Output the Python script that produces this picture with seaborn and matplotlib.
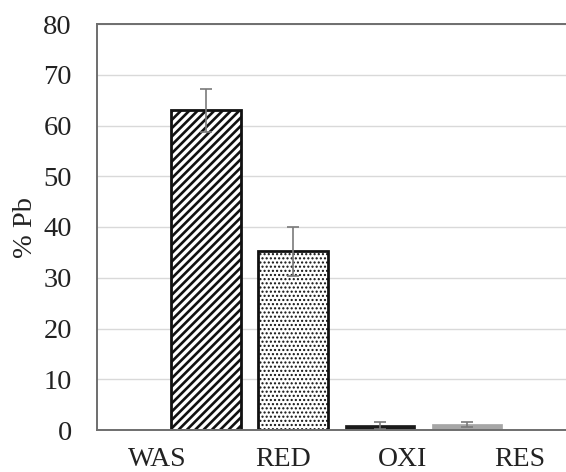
import seaborn as sns
import pandas as pd
import numpy as np
from matplotlib import pyplot as plt

# lead fractions (%)
fractions = ["WAS", "RED", "OXI", "RES"]
pb_mean = [63.0, 35.2, 0.9, 1.1]
pb_err = [4.2, 4.8, 0.7, 0.5]

df = pd.DataFrame({"Fraction": fractions, "Pb": pb_mean})

sns.set_theme(style="white")
plt.rcParams['font.family'] = ['Liberation Serif', 'DejaVu Serif']

fig = plt.figure(figsize=(5.66, 4.72), dpi=100)
ax = fig.add_axes([97 / 566, 42 / 472, 1 - 97 / 566, 406 / 472])

sns.barplot(data=df, x="Fraction", y="Pb", order=fractions, color="white",
            width=0.8, ax=ax, zorder=2)

styles = [
    dict(facecolor="white", edgecolor="#111111", hatch="////", lw=2.0, hlw=1.9),
    dict(facecolor="white", edgecolor="#111111", hatch="....", lw=2.0, hlw=1.0),
    dict(facecolor="#1a1a1a", edgecolor="#1a1a1a", hatch=None, lw=0.5, hlw=1.0),
    dict(facecolor="#a6a6a6", edgecolor="#a6a6a6", hatch=None, lw=0.5, hlw=1.0),
]
for patch, st in zip(ax.patches, styles):
    patch.set_facecolor(st["facecolor"])
    patch.set_edgecolor(st["edgecolor"])
    patch.set_linewidth(st["lw"])
    if st["hatch"]:
        patch.set_hatch(st["hatch"])
        try:
            patch.set_hatch_linewidth(st["hlw"])
        except AttributeError:
            plt.rcParams['hatch.linewidth'] = 1.9

ax.errorbar(x=np.arange(len(fractions)), y=pb_mean, yerr=pb_err, fmt="none",
            ecolor="#7a7a7a", elinewidth=1.2, capsize=4, capthick=1.2, zorder=3)

ax.set_ylim(0, 80)
ax.set_xlim(-1.25, 4.14)
ax.set_yticks(range(0, 81, 10))
ax.yaxis.grid(True, color="#d9d9d9", linewidth=1.0, zorder=0)
ax.set_axisbelow(True)

# the category labels in the original sit on their own spacing, not under the bars
ax.set_xticks([-0.554, 0.889, 2.256, 3.613], fractions)

for side in ["left", "top", "bottom"]:
    ax.spines[side].set_color("#6e6e6e")
    ax.spines[side].set_linewidth(1.4)
ax.spines["right"].set_visible(False)

ax.tick_params(axis="y", length=0, pad=18, labelsize=20.5, labelcolor="#222222")
ax.tick_params(axis="x", length=0, pad=12, labelsize=20, labelcolor="#222222")
ax.set_xlabel("")
ax.set_ylabel("% Pb", fontsize=20.5, color="#222222", labelpad=4)

plt.savefig("out.png", dpi=100)
